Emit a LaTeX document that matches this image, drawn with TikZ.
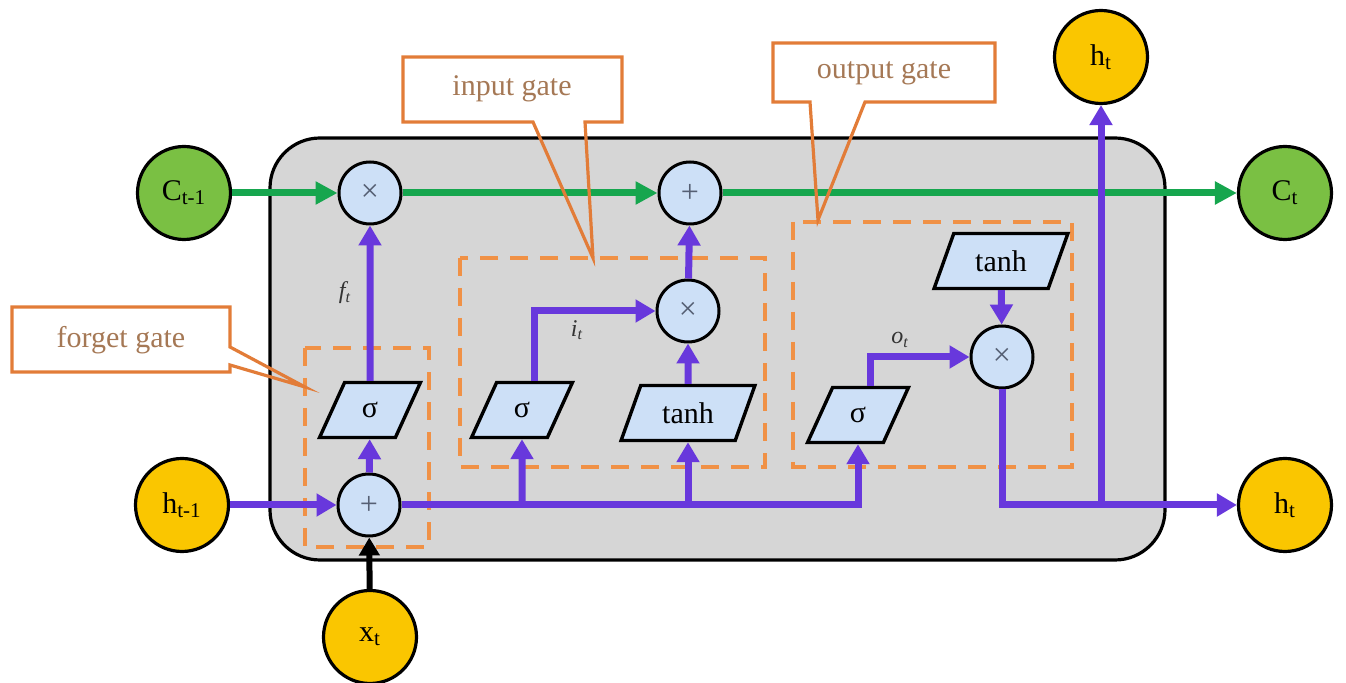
\documentclass[tikz,border=0pt]{standalone}
\usepackage{fontspec}
\setmainfont{Liberation Serif}
\usetikzlibrary{arrows.meta,shapes.geometric,calc}

\definecolor{cellgray}{RGB}{214,214,214}
\definecolor{opblue}{RGB}{205,224,247}
\definecolor{cellgreen}{RGB}{122,192,67}
\definecolor{flowgreen}{RGB}{22,166,78}
\definecolor{stateyellow}{RGB}{250,198,0}
\definecolor{flowpurple}{RGB}{104,56,220}
\definecolor{calloutorange}{RGB}{226,124,56}
\definecolor{boxorange}{RGB}{240,145,70}
\definecolor{gatetext}{RGB}{165,120,85}
\definecolor{optext}{RGB}{85,95,115}

\begin{document}
\begin{tikzpicture}[x=0.5pt,y=-0.5pt,
  state/.style={circle,draw=black,line width=1.6pt,minimum size=46.5pt,inner sep=0pt,
    font=\fontsize{15}{18}\selectfont},
  cellstate/.style={state,fill=cellgreen},
  hidden/.style={state,fill=stateyellow},
  op/.style={circle,draw=black,line width=1.5pt,fill=opblue,minimum size=31pt,inner sep=0pt,
    font=\fontsize{16}{18}\selectfont,text=optext},
  act/.style={trapezium,trapezium left angle=63,trapezium right angle=117,
    trapezium stretches=true,draw=black,line width=1.7pt,fill=opblue,
    minimum height=27.5pt,inner sep=0pt,font=\fontsize{15}{18}\selectfont},
  flow/.style={line width=3.5pt},
  pline/.style={flow,draw=flowpurple},
  parrow/.style={pline,-{Triangle[length=10pt,width=11pt]}},
  garrow/.style={flow,draw=flowgreen,-{Triangle[length=11pt,width=11pt]}},
  karrow/.style={line width=3pt,draw=black,-{Triangle[length=9pt,width=10pt]}},
  gatebox/.style={draw=boxorange,line width=1.7pt,dash pattern=on 9pt off 6pt},
  callout/.style={draw=calloutorange,line width=1.6pt},
  gatename/.style={text=gatetext,font=\fontsize{15}{18}\selectfont},
  siglabel/.style={font=\fontsize{12}{14}\selectfont\itshape,text=black!80}
]
\useasboundingbox (0,0) rectangle (1346,683);

% cell body
\draw[line width=1.6pt,fill=cellgray,rounded corners=25pt] (270,138) rectangle (1165,560);

% gate regions
\draw[gatebox] (305,348) rectangle (429,547);
\draw[gatebox] (460,258) rectangle (765,467);
\draw[gatebox] (793,222) rectangle (1072,467);

% states
\node[cellstate] (cprev) at (184,193) {C\textsubscript{t-1}};
\node[hidden] (hprev) at (182,505) {h\textsubscript{t-1}};
\node[hidden] (xt) at (370,637) {x\textsubscript{t}};
\node[cellstate] (cnext) at (1285,193) {C\textsubscript{t}};
\node[hidden] (hnext) at (1285,505) {h\textsubscript{t}};
\node[hidden] (hup) at (1101,57) {h\textsubscript{t}};

% pointwise operations
\node[op] (mulf) at (370,193) {×};
\node[op] (addc) at (690,193) {+};
\node[op] (muli) at (688,311) {×};
\node[op] (addx) at (369,505) {+};
\node[op] (mulo) at (1002,357) {×};

% activation layers
\node[act,minimum width=50.5pt] (sigf) at (370,410) {σ};
\node[act,minimum width=50.5pt] (sigi) at (522,410) {σ};
\node[act,minimum width=67pt] (tanhc) at (688,413) {tanh};
\node[act,minimum width=50.5pt] (sigo) at (858,415) {σ};
\node[act,minimum width=67pt] (tanho) at (1001,261) {tanh};

% cell state path
\draw[garrow] (cprev) -- (mulf);
\draw[garrow] (mulf) -- (addc);
\draw[garrow] (addc) -- (cnext);

% inputs
\draw[parrow] (hprev) -- (addx);
\draw[karrow] (xt) -- (addx);

% forget gate
\draw[parrow] (addx) -- (sigf);
\draw[parrow] (sigf) -- (mulf);

% shared bus to input and output gates
\draw[parrow] (addx) -| (sigo);
\draw[parrow] (sigi |- addx) -- (sigi);
\draw[parrow] (tanhc |- addx) -- (tanhc);

% input gate
\draw[parrow] ($(sigi.north)+(12,0)$) |- (muli);
\draw[parrow] (tanhc) -- (muli);
\draw[parrow] (muli) -- (addc);

% output gate
\draw[parrow] ($(sigo.north)+(12,0)$) |- (mulo);
\draw[parrow] (tanho) -- (mulo);
\draw[parrow] (mulo) |- (hnext);
\draw[parrow] (hup |- hnext) -- (hup);

% signal labels
\node[siglabel] (ft) at (345,293) {f\textsubscript{t}};
\node[siglabel] (it) at (577,330) {i\textsubscript{t}};
\node[siglabel] (ot) at (900,340) {o\textsubscript{t}};

% gate callouts
\draw[callout] (12,307) -- (230,307) -- (230,347) -- (305,387) -- (230,365) -- (230,372) -- (12,372) -- cycle;
\node[gatename] (fgate) at (121,340) {forget gate};
\draw[callout] (403,57) -- (622,57) -- (622,122) -- (585,122) -- (593,258) -- (533,122) -- (403,122) -- cycle;
\node[gatename] (igate) at (512,89) {input gate};
\draw[callout] (773,43) -- (995,43) -- (995,102) -- (865,102) -- (818,220) -- (810,102) -- (773,102) -- cycle;
\node[gatename] (ogate) at (884,73) {output gate};
\end{tikzpicture}
\end{document}
